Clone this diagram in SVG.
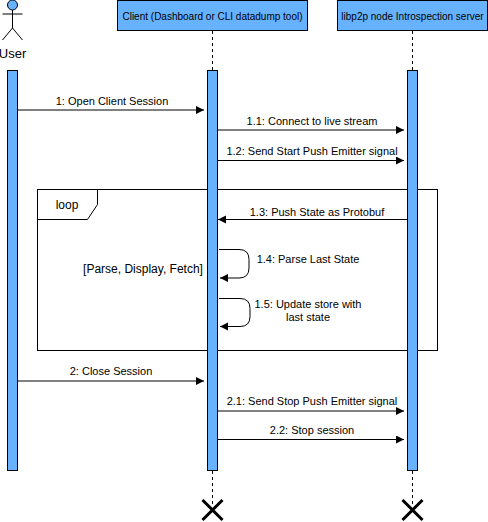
<svg xmlns="http://www.w3.org/2000/svg" width="488" height="522" viewBox="0 0 488 522">
<style>
text{font-family:"Liberation Sans",Arial,sans-serif;font-size:11px;fill:#000;text-anchor:middle}
.box{fill:#66b2ff;stroke:#000;stroke-width:1}
.life{stroke:#000;stroke-width:1;stroke-dasharray:3 3;fill:none}
.msg{stroke:#000;stroke-width:1;fill:none;marker-end:url(#arrow)}
.x{stroke:#000;stroke-width:3;fill:none}
.line{stroke:#000;stroke-width:1;fill:none}
</style>
<defs>
<marker id="arrow" markerUnits="userSpaceOnUse" markerWidth="9" markerHeight="9" refX="8" refY="4" orient="auto">
<path d="M0 0L8 4L0 8Z" fill="#000"/>
</marker>
</defs>
<rect width="488" height="522" fill="#fff"/>
<g id="loop-frame">
<rect x="37.5" y="189.5" width="400" height="161" class="line"/>
<path d="M37.5 219.5H87.5L97.5 204.5V189.5" class="line"/>
<text x="67" y="209" style="font-size:12px">loop</text>
<text x="143" y="273" style="font-size:12px">[Parse, Display, Fetch]</text>
</g>
<g id="lifelines">
<path d="M212.5 31V70M212.5 471V505" class="life"/>
<path d="M412.5 31V70M412.5 471V505" class="life"/>
</g>
<g id="user">
<circle cx="12.5" cy="5" r="5" class="box"/>
<path d="M12.5 10V28M2.5 14H22.5M2.5 40L12.5 28L22.5 40" class="line"/>
<text x="12.5" y="58" style="font-size:13px">User</text>
<rect x="7.5" y="70.5" width="10" height="400" class="box"/>
</g>
<g id="client">
<rect x="117.5" y="0.5" width="190" height="30" class="box"/>
<text x="212.5" y="20" style="font-size:10px">Client (Dashboard or CLI datadump tool)</text>
<rect x="207.5" y="70.5" width="10" height="400" class="box"/>
<path d="M202.5 500L222.5 520M222.5 500L202.5 520" class="x"/>
</g>
<g id="server">
<rect x="337.5" y="0.5" width="150" height="30" class="box"/>
<text x="412.5" y="20" style="font-size:10px">libp2p node Introspection server</text>
<rect x="407.5" y="70.5" width="10" height="400" class="box"/>
<path d="M402.5 500L422.5 520M422.5 500L402.5 520" class="x"/>
</g>
<g id="connectors">
<path d="M17.5 110H204" class="msg"/>
<path d="M217.5 130H404" class="msg"/>
<path d="M217.5 160.500H404" class="msg"/>
<path d="M407.5 219.500H218" class="msg"/>
<path d="M219 249.500H239Q249 249.500 249 259.500V268Q249 278 239 278H220" class="msg"/>
<path d="M219 298.500H240Q250 298.500 250 308.500V316.500Q250 326.500 240 326.500H220" class="msg"/>
<path d="M17.500 381H204" class="msg"/>
<path d="M217.500 411H404" class="msg"/>
<path d="M217.500 439.500H404" class="msg"/>
</g>
<g id="labels">
<text x="112" y="105">1: Open Client Session</text>
<text x="312" y="125">1.1: Connect to live stream</text>
<text x="312" y="155">1.2: Send Start Push Emitter signal</text>
<text x="317" y="216">1.3: Push State as Protobuf</text>
<text x="308" y="263">1.4: Parse Last State</text>
<text x="308" y="308">1.5: Update store with</text>
<text x="308" y="321">last state</text>
<text x="111" y="375">2: Close Session</text>
<text x="312" y="405">2.1: Send Stop Push Emitter signal</text>
<text x="312" y="434">2.2: Stop session</text>
</g>
</svg>
